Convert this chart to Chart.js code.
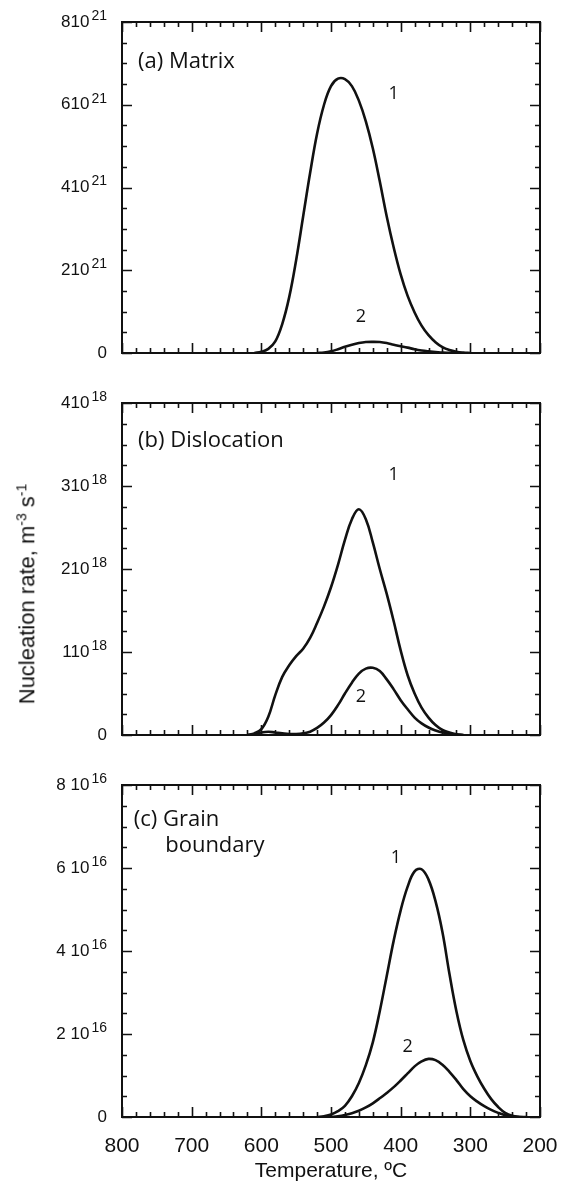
<!DOCTYPE html>
<html>
<head>
<meta charset="utf-8">
<script src="https://cdn.jsdelivr.net/npm/chart.js@4/dist/chart.umd.min.js"></script>
<style>
  html, body { margin: 0; padding: 0; background: #fff; }
  #wrap { position: relative; width: 564px; height: 1184px; overflow: hidden; }
  canvas { position: absolute; left: 0; }
  #ytitle {
    position: absolute; left: 27px; top: 594px;
    transform: translate(-50%, -50%) rotate(-90deg);
    font-family: "Liberation Sans", Arial, sans-serif; font-size: 22px; color: #111;
    white-space: nowrap;
  }
  #ytitle sup { font-size: 14px; }
</style>
</head>
<body>
<div id="wrap">
  <canvas id="ca" width="564" height="380" style="top:0px"></canvas>
  <canvas id="cb" width="564" height="380" style="top:380px"></canvas>
  <canvas id="cc" width="564" height="424" style="top:760px"></canvas>
  <div id="ytitle">Nucleation rate, m<sup>-3</sup> s<sup>-1</sup></div>
</div>
<script>
// ---------------- DATA ----------------
// x ticks (temperature, °C)
const xTickValues = [800, 700, 600, 500, 400, 300, 200];
const xTickLabels = ['800', '700', '600', '500', '400', '300', '200'];

// (a) Matrix, units 10^21 m^-3 s^-1
const yTickValuesA = [0, 2, 4, 6, 8];
const yTickBaseA = ['0', '210', '410', '610', '810'];
const yTickExpA = ['', '21', '21', '21', '21'];
const tempA1 = [610, 600, 590, 580, 570, 560, 550, 540, 530, 520, 510, 500, 490, 480, 470, 460, 450, 440, 430, 420, 410, 400, 390, 380, 370, 360, 350, 340, 330, 320, 310, 300];
const rateA1 = [0, 0.03, 0.1, 0.28, 0.7, 1.35, 2.25, 3.3, 4.35, 5.3, 6.0, 6.45, 6.63, 6.62, 6.45, 6.1, 5.6, 4.95, 4.15, 3.3, 2.55, 1.9, 1.38, 0.98, 0.66, 0.43, 0.26, 0.14, 0.07, 0.03, 0.01, 0];
const tempA2 = [520, 510, 500, 490, 480, 470, 460, 450, 440, 430, 420, 410, 400, 390, 380, 370, 360, 350, 340, 330, 320];
const rateA2 = [0, 0.01, 0.04, 0.09, 0.15, 0.2, 0.24, 0.265, 0.27, 0.265, 0.24, 0.2, 0.165, 0.13, 0.09, 0.06, 0.04, 0.025, 0.01, 0.005, 0];

// (b) Dislocation, units 10^18 m^-3 s^-1
const yTickValuesB = [0, 1, 2, 3, 4];
const yTickBaseB = ['0', '110', '210', '310', '410'];
const yTickExpB = ['', '18', '18', '18', '18'];
const tempB1 = [620, 610, 600, 590, 580, 570, 560, 550, 540, 530, 520, 510, 500, 490, 480, 470, 460, 450, 440, 430, 420, 410, 400, 390, 380, 370, 360, 350, 340, 330, 320, 310];
const rateB1 = [0, 0.02, 0.07, 0.22, 0.48, 0.7, 0.84, 0.95, 1.04, 1.17, 1.35, 1.55, 1.78, 2.05, 2.35, 2.6, 2.72, 2.6, 2.32, 2.0, 1.7, 1.37, 1.02, 0.72, 0.5, 0.33, 0.21, 0.12, 0.06, 0.03, 0.01, 0];
const tempB2 = [620, 610, 600, 590, 580, 570, 560, 550, 540, 530, 520, 510, 500, 490, 480, 470, 460, 450, 440, 430, 420, 410, 400, 390, 380, 370, 360, 350, 340, 330, 320, 310];
const rateB2 = [0, 0.005, 0.03, 0.04, 0.03, 0.02, 0.012, 0.012, 0.02, 0.04, 0.085, 0.15, 0.24, 0.36, 0.5, 0.63, 0.74, 0.8, 0.81, 0.77, 0.67, 0.55, 0.42, 0.31, 0.21, 0.14, 0.09, 0.055, 0.03, 0.02, 0.005, 0];

// (c) Grain boundary, units 10^16 m^-3 s^-1
const yTickValuesC = [0, 2, 4, 6, 8];
const yTickBaseC = ['0', '2 10', '4 10', '6 10', '8 10'];
const yTickExpC = ['', '16', '16', '16', '16'];
const tempC1 = [520, 510, 500, 490, 480, 470, 460, 450, 440, 430, 420, 410, 400, 390, 380, 370, 360, 350, 340, 330, 320, 310, 300, 290, 280, 270, 260, 250, 240, 230, 220];
const rateC1 = [0, 0.02, 0.06, 0.14, 0.27, 0.5, 0.82, 1.25, 1.8, 2.55, 3.4, 4.25, 4.98, 5.55, 5.92, 5.97, 5.72, 5.2, 4.45, 3.45, 2.55, 1.85, 1.35, 0.98, 0.68, 0.43, 0.24, 0.1, 0.03, 0.005, 0];
const tempC2 = [500, 490, 480, 470, 460, 450, 440, 430, 420, 410, 400, 390, 380, 370, 360, 350, 340, 330, 320, 310, 300, 290, 280, 270, 260, 250, 240, 230];
const rateC2 = [0, 0.02, 0.05, 0.09, 0.15, 0.23, 0.33, 0.45, 0.58, 0.72, 0.88, 1.05, 1.22, 1.34, 1.4, 1.37, 1.26, 1.09, 0.89, 0.67, 0.5, 0.37, 0.26, 0.17, 0.1, 0.045, 0.015, 0];

// Text annotations (label text, temperature, rate, alignment)
const notesA = [['(a) Matrix', 777, 7.05, 'left'], ['1', 410, 6.27, 'center'], ['2', 457, 0.87, 'center']];
const notesB = [['(b) Dislocation', 777, 3.55, 'left'], ['1', 410, 3.13, 'center'], ['2', 457, 0.46, 'center']];
const notesC = [['(c) Grain', 783, 7.16, 'left'], ['boundary', 738, 6.54, 'left'], ['1', 407, 6.24, 'center'], ['2', 390, 1.69, 'center']];

// ---------------- DRAWING ----------------
const INK = '#111';
const toXY = (ts, vs) => ts.map((t, i) => ({ x: t, y: vs[i] }));
const TICKFONT = '"Liberation Sans", Arial, sans-serif';

const framePlugin = {
  id: 'frame',
  afterDatasetsDraw(chart, args, o) {
    const { ctx, chartArea: a, scales: { x, y } } = chart;
    ctx.save();
    ctx.strokeStyle = INK;
    ctx.lineWidth = 2;
    ctx.strokeRect(a.left, a.top, a.right - a.left, a.bottom - a.top);
    ctx.lineWidth = 1.6;
    ctx.beginPath();
    for (let t = 200; t <= 800; t += 20) {
      const px = Math.round(x.getPixelForValue(t)) + 0.5;
      const len = (t % 100 === 0) ? 10 : 5;
      ctx.moveTo(px, a.bottom); ctx.lineTo(px, a.bottom - len);
      ctx.moveTo(px, a.top); ctx.lineTo(px, a.top + len);
    }
    for (let v = 0; v <= o.yMax + 1e-9; v += o.yMinor) {
      const py = Math.round(y.getPixelForValue(v)) + 0.5;
      const isMajor = Math.abs(v / o.yMajor - Math.round(v / o.yMajor)) < 1e-6;
      const len = isMajor ? 10 : 5;
      ctx.moveTo(a.left, py); ctx.lineTo(a.left + len, py);
      ctx.moveTo(a.right, py); ctx.lineTo(a.right - len, py);
    }
    ctx.stroke();

    // y tick labels with superscript exponents
    ctx.fillStyle = INK;
    ctx.textBaseline = 'middle';
    ctx.textAlign = 'right';
    const rightEdge = a.left - 15;
    o.tickVals.forEach((v, i) => {
      const py = y.getPixelForValue(v);
      const exp = o.tickExp[i];
      let xr = rightEdge;
      if (exp) {
        ctx.font = '14px ' + TICKFONT;
        ctx.fillText(exp, xr, py - 6);
        xr -= ctx.measureText(exp).width + 2;
      }
      ctx.font = '17px ' + TICKFONT;
      ctx.fillText(o.tickBase[i], xr, py);
    });

    // annotations
    for (const [txt, t, v, align] of o.notes) {
      const big = txt.length > 1;
      ctx.font = (big ? '22px' : '18px') + ' "Open Sans", "DejaVu Sans", sans-serif';
      ctx.textAlign = align;
      ctx.fillText(txt, x.getPixelForValue(t), y.getPixelForValue(v));
    }
    ctx.restore();
  }
};

function makeChart(id, series, yMax, yMajor, yMinor, tickVals, tickBase, tickExp, notes, padTop, xHeight, showX) {
  const datasets = series.map(s => ({
    data: s,
    borderColor: INK,
    borderWidth: 2.6,
    pointRadius: 0,
    fill: false,
    tension: 0.4
  }));
  return new Chart(document.getElementById(id), {
    type: 'line',
    data: { datasets },
    options: {
      responsive: false,
      animation: false,
      layout: { padding: { top: padTop, right: 24, bottom: 0, left: 0 } },
      plugins: {
        legend: { display: false }, tooltip: { enabled: false },
        frame: { yMax, yMajor, yMinor, notes, tickVals, tickBase, tickExp }
      },
      scales: {
        x: {
          type: 'linear', reverse: true, min: 200, max: 800,
          grid: { display: false, drawTicks: false },
          border: { display: false },
          afterBuildTicks: s => { s.ticks = xTickValues.map(v => ({ value: v })); },
          ticks: {
            display: showX, padding: 17, color: INK, maxRotation: 0, autoSkip: false,
            font: { family: TICKFONT, size: 21 },
            callback: v => xTickLabels[xTickValues.indexOf(v)]
          },
          title: {
            display: showX, text: 'Temperature, ºC', color: INK,
            font: { family: TICKFONT, size: 21 },
            padding: { top: 0, bottom: 0 }
          },
          afterFit: s => { s.height = xHeight; s.paddingLeft = 0; s.paddingRight = 0; }
        },
        y: {
          type: 'linear', min: 0, max: yMax,
          grid: { display: false, drawTicks: false },
          border: { display: false },
          afterBuildTicks: s => { s.ticks = tickVals.map(v => ({ value: v })); },
          ticks: { display: false },
          afterFit: s => { s.width = 122; s.paddingTop = 0; s.paddingBottom = 0; }
        }
      }
    },
    plugins: [framePlugin]
  });
}

makeChart('ca', [toXY(tempA1, rateA1), toXY(tempA2, rateA2)], 8, 2, 0.5, yTickValuesA, yTickBaseA, yTickExpA, notesA, 22, 27, false);
makeChart('cb', [toXY(tempB1, rateB1), toXY(tempB2, rateB2)], 4, 1, 0.25, yTickValuesB, yTickBaseB, yTickExpB, notesB, 23, 25, false);
makeChart('cc', [toXY(tempC1, rateC1), toXY(tempC2, rateC2)], 8, 2, 0.5, yTickValuesC, yTickBaseC, yTickExpC, notesC, 25, 67, true);
</script>
</body>
</html>
